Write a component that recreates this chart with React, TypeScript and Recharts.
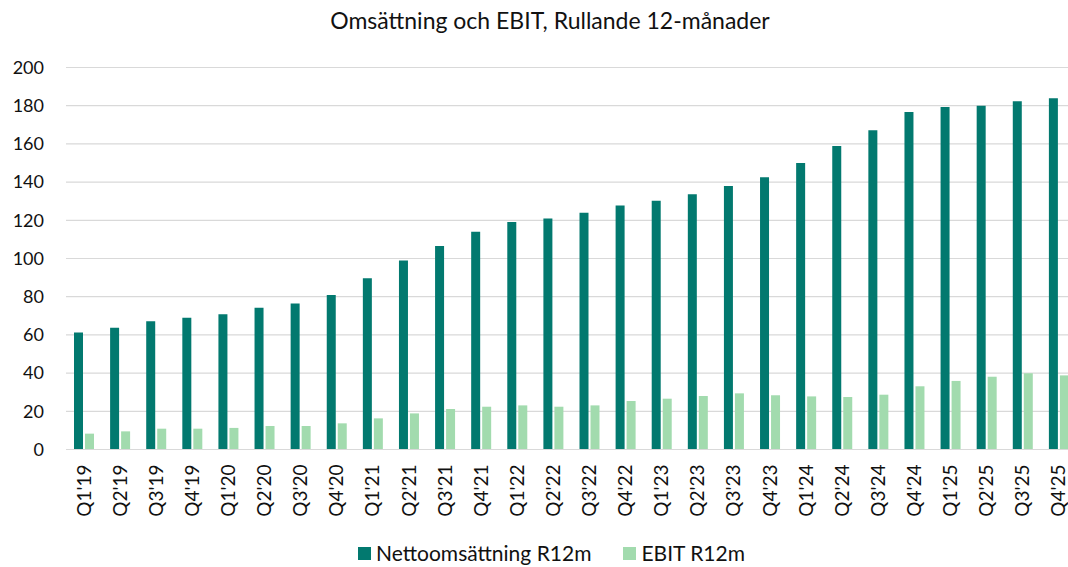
import React from 'react';
import { BarChart, Bar, XAxis, YAxis, CartesianGrid, Legend } from 'recharts';

const categories = [
  "Q1'19", "Q2'19", "Q3'19", "Q4'19",
  "Q1'20", "Q2'20", "Q3'20", "Q4'20",
  "Q1'21", "Q2'21", "Q3'21", "Q4'21",
  "Q1'22", "Q2'22", "Q3'22", "Q4'22",
  "Q1'23", "Q2'23", "Q3'23", "Q4'23",
  "Q1'24", "Q2'24", "Q3'24", "Q4'24",
  "Q1'25", "Q2'25", "Q3'25", "Q4'25",
];

const nettoomsattning = [
  61.2, 63.8, 67.1, 69.0,
  70.8, 74.2, 76.5, 80.9,
  89.6, 98.9, 106.5, 114.0,
  119.1, 121.0, 124.0, 127.7,
  130.3, 133.6, 138.0, 142.5,
  150.0, 158.9, 167.1, 176.7,
  179.3, 180.0, 182.3, 183.9,
];

const ebit = [
  8.3, 9.5, 10.9, 10.9,
  11.3, 12.3, 12.3, 13.7,
  16.3, 18.9, 21.2, 22.4,
  23.1, 22.4, 23.1, 25.4,
  26.6, 28.0, 29.4, 28.4,
  27.8, 27.5, 28.7, 33.1,
  35.9, 38.1, 39.9, 38.8,
];

const yTicks = [0, 20, 40, 60, 80, 100, 120, 140, 160, 180, 200];

const TITLE = 'Omsättning och EBIT, Rullande 12-månader';
const NAME_NET = 'Nettoomsättning R12m';
const NAME_EBIT = 'EBIT R12m';
const SERIES_ORDER = ['net', 'ebit'];

const DARK = '#02796F';
const LIGHT = '#A2DBAE';
const FONT = 'Lato, "Open Sans", sans-serif';

const data = categories.map((c, i) => ({
  name: c,
  net: nettoomsattning[i],
  ebit: ebit[i],
}));

const XTick = (props: any) => {
  const { x, y, payload } = props;
  return (
    <text
      x={x - 1}
      y={y}
      transform={`rotate(-90 ${x - 1} ${y})`}
      textAnchor="end"
      dominantBaseline="central"
      fontSize={19}
      fontFamily={FONT}
      fill="#111"
    >
      {payload.value}
    </text>
  );
};

const renderLegend = (props: any) => {
  const payload = [...(props.payload || [])].sort(
    (a: any, b: any) => SERIES_ORDER.indexOf(a.dataKey) - SERIES_ORDER.indexOf(b.dataKey)
  );
  return (
    <div
      style={{
        display: 'flex',
        justifyContent: 'center',
        alignItems: 'center',
        height: 24,
        lineHeight: '24px',
        paddingLeft: 26,
        fontFamily: FONT,
        fontSize: 21,
        color: '#111',
      }}
    >
      {payload.map((p: any, i: number) => (
        <div key={i} style={{ display: 'flex', alignItems: 'center', marginRight: i === 0 ? 32 : 0 }}>
          <span style={{ width: 13, height: 13, background: p.color, display: 'inline-block', marginRight: 5 }} />
          <span>{p.value}</span>
        </div>
      ))}
    </div>
  );
};

export default function App() {
  return (
    <div
      style={{
        position: 'absolute',
        left: 0,
        top: 0,
        width: 1068,
        height: 567,
        overflow: 'hidden',
        background: '#fff',
      }}
    >
      <div
        style={{
          position: 'absolute',
          left: 0,
          top: 7,
          width: 1100,
          textAlign: 'center',
          fontFamily: FONT,
          fontSize: 23,
          color: '#111',
          lineHeight: '26px',
        }}
      >
        {TITLE}
      </div>
      <BarChart
        width={1077}
        height={567}
        data={data}
        margin={{ top: 67.5, right: 0, left: 0, bottom: 0 }}
        barCategoryGap={8}
        barGap={2}
      >
        <CartesianGrid vertical={false} stroke="#D9D9D9" strokeWidth={1.2} />
        <XAxis
          dataKey="name"
          interval={0}
          height={93.5}
          tickLine={false}
          tickSize={0}
          tickMargin={15}
          axisLine={{ stroke: '#D9D9D9', strokeWidth: 1.2 }}
          tick={<XTick />}
        />
        <YAxis
          width={66}
          domain={[0, 200]}
          ticks={yTicks}
          interval={0}
          tickLine={false}
          axisLine={false}
          tickSize={0}
          tickMargin={22}
          tick={{ fontSize: 18, fontFamily: FONT, fill: '#111' }}
        />
        <Legend verticalAlign="bottom" content={renderLegend} wrapperStyle={{ bottom: 2 }} />
        <Bar dataKey="net" name={NAME_NET} fill={DARK} isAnimationActive={false} />
        <Bar dataKey="ebit" name={NAME_EBIT} fill={LIGHT} isAnimationActive={false} />
      </BarChart>
    </div>
  );
}
